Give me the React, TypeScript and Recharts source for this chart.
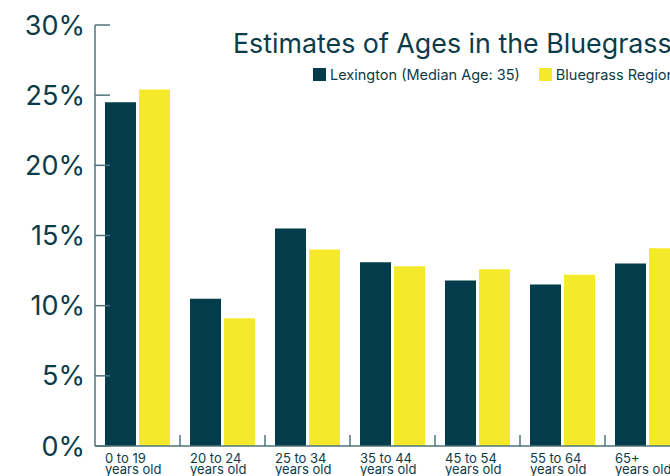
import React from "react";
import { BarChart, Bar, XAxis, YAxis } from "recharts";

const CATEGORIES = [
  "0 to 19|years old",
  "20 to 24|years old",
  "25 to 34|years old",
  "35 to 44|years old",
  "45 to 54|years old",
  "55 to 64|years old",
  "65+|years old",
];
const LEXINGTON = [24.5, 10.5, 15.5, 13.1, 11.8, 11.5, 13.0];
const BLUEGRASS = [25.4, 9.1, 14.0, 12.8, 12.6, 12.2, 14.1];
const Y_TICKS = [0, 5, 10, 15, 20, 25, 30];
const SERIES_NAMES = ["Lexington (Median Age: 35)", "Bluegrass Region"];

const DARK = "#033c4b";
const YELLOW = "#f5ea2a";
const AXIS = "#4f737d";
const TEXT = "#0b3b49";
const FONT = "Inter, 'Noto Sans', sans-serif";

const data = CATEGORIES.map((c, i) => ({
  label: c,
  lexington: LEXINGTON[i],
  bluegrass: BLUEGRASS[i],
}));

const YTick = (props: any) => {
  const { x, y, payload } = props;
  return (
    <g>
      <line x1={x + 10} x2={x + 25} y1={y} y2={y} stroke={AXIS} strokeWidth={1.5} />
      <text
        x={x}
        y={y}
        textAnchor="end"
        dominantBaseline="central"
        fontSize={27}
        fontFamily={FONT}
        fill={TEXT}
      >
        {payload.value}%
      </text>
    </g>
  );
};

const XTick = (props: any) => {
  const { x, y, payload, index } = props;
  const [l1, l2] = String(payload.value).split("|");
  return (
    <g>
      {index < CATEGORIES.length - 1 && (
        <line
          x1={x + 42.5}
          x2={x + 42.5}
          y1={y}
          y2={y - 11}
          stroke={AXIS}
          strokeWidth={1.5}
        />
      )}
      <text x={x - 32.5} y={y + 17} fontSize={13} fontFamily={FONT} fill={TEXT}>
        {l1}
      </text>
      <text x={x - 32.5} y={y + 28} fontSize={13} fontFamily={FONT} fill={TEXT}>
        {l2}
      </text>
    </g>
  );
};

const Swatch = ({ color }: { color: string }) => (
  <span style={{ width: 13, height: 13, background: color, display: "inline-block", marginRight: 4 }} />
);

export default function App() {
  return (
    <div
      style={{
        position: "fixed",
        left: 0,
        top: 0,
        width: 670,
        height: 476,
        overflow: "hidden",
        background: "#fff",
      }}
    >
      <BarChart
        width={720}
        height={500}
        data={data}
        margin={{ top: 25, right: 30, left: 0, bottom: 0 }}
        barCategoryGap={10}
        barGap={3}
      >
        <XAxis
          dataKey="label"
          height={54}
          interval={0}
          tick={<XTick />}
          tickLine={false}
          tickSize={0}
          tickMargin={0}
          axisLine={{ stroke: AXIS, strokeWidth: 1.5 }}
        />
        <YAxis
          width={95}
          domain={[0, 30]}
          ticks={Y_TICKS}
          interval={0}
          tick={<YTick />}
          tickLine={false}
          tickSize={0}
          tickMargin={10}
          axisLine={{ stroke: AXIS, strokeWidth: 1.5 }}
        />
        <Bar dataKey="lexington" fill={DARK} isAnimationActive={false} />
        <Bar dataKey="bluegrass" fill={YELLOW} isAnimationActive={false} />
      </BarChart>
      <div
        style={{
          position: "absolute",
          left: 233,
          top: 27,
          fontFamily: FONT,
          fontSize: 26.8,
          color: TEXT,
          whiteSpace: "nowrap",
        }}
      >
        Estimates of Ages in the Bluegrass Region
      </div>
      <div
        style={{
          position: "absolute",
          left: 313,
          top: 66,
          display: "flex",
          alignItems: "center",
          fontFamily: FONT,
          fontSize: 14.5,
          color: TEXT,
          whiteSpace: "nowrap",
        }}
      >
        <Swatch color={DARK} />
        <span style={{ marginRight: 19 }}>{SERIES_NAMES[0]}</span>
        <Swatch color={YELLOW} />
        <span>{SERIES_NAMES[1]}</span>
      </div>
    </div>
  );
}
